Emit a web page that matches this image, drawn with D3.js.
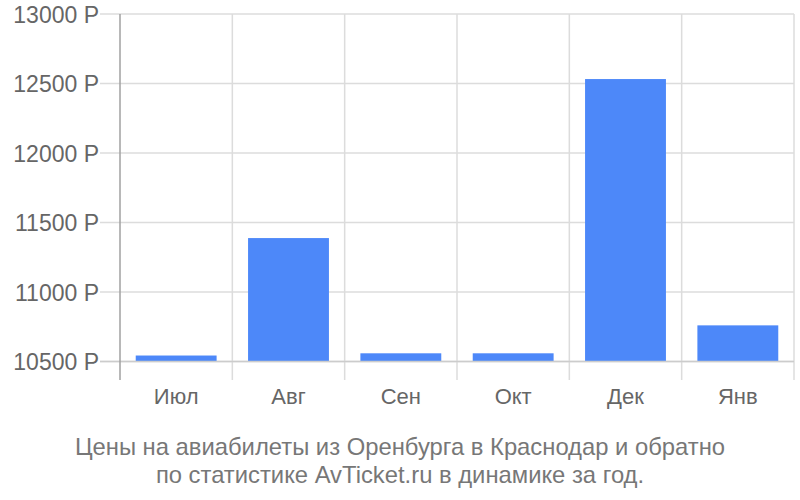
<!DOCTYPE html>
<html><head><meta charset="utf-8">
<script src="https://cdn.jsdelivr.net/npm/d3@7"></script>
<style>body{margin:0;background:#fff}svg{display:block}</style>
</head><body>
<svg id="c" width="800" height="500"></svg>
<script>
const categories = ["Июл","Авг","Сен","Окт","Дек","Янв"];
const prices = [10543, 11388, 10559, 10559, 12532, 10760];
const yTicks = [10500, 11000, 11500, 12000, 12500, 13000];
const titleLines = ["Цены на авиабилеты из Оренбурга в Краснодар и обратно","по статистике AvTicket.ru в динамике за год."];

const svg = d3.select("#c");
const font = "'Liberation Sans', Arial, sans-serif";
const mLeft = 120, mRight = 794, mTop = 14, mBottom = 361.5, axisBottom = 380;

const x = d3.scaleBand().domain(categories).range([mLeft, mRight]).paddingInner(0.28).paddingOuter(0.14);
const xb = d3.scaleBand().domain(categories).range([mLeft, mRight]);
const y = d3.scaleLinear().domain([10500, 13000]).range([mBottom, mTop]);

// horizontal grid + ticks
svg.append("g").selectAll("line").data(yTicks).join("line")
  .attr("x1", 100).attr("x2", mRight).attr("y1", d => y(d)).attr("y2", d => y(d))
  .attr("stroke", "#dcdcdc").attr("stroke-width", 1.5);
// vertical grid
const vb = categories.map(c => xb(c) + xb.bandwidth());
svg.append("g").selectAll("line").data(vb).join("line")
  .attr("x1", d => d).attr("x2", d => d).attr("y1", mTop).attr("y2", axisBottom)
  .attr("stroke", "#dcdcdc").attr("stroke-width", 1.5);

// bars
svg.append("g").selectAll("rect").data(prices).join("rect")
  .attr("x", (d, i) => x(categories[i])).attr("width", x.bandwidth())
  .attr("y", d => y(d)).attr("height", d => y(10500) - y(d))
  .attr("fill", "#4d88f9");

// baseline
svg.append("line").attr("x1", 100).attr("x2", mRight).attr("y1", mBottom).attr("y2", mBottom)
  .attr("stroke", "#cccccc").attr("stroke-width", 1.5);
// left axis
svg.append("line").attr("x1", mLeft).attr("x2", mLeft).attr("y1", mTop).attr("y2", axisBottom)
  .attr("stroke", "#a0a0a0").attr("stroke-width", 1.5);

// y labels
svg.append("g").selectAll("text").data(yTicks).join("text")
  .attr("x", 99).attr("y", d => y(d) + 8.5).attr("text-anchor", "end")
  .attr("font-family", font).attr("font-size", 23).attr("fill", "#666")
  .text(d => d + " Р");

// x labels
svg.append("g").selectAll("text").data(categories).join("text")
  .attr("x", d => xb(d) + xb.bandwidth() / 2).attr("y", 404).attr("text-anchor", "middle")
  .attr("font-family", font).attr("font-size", 22).attr("fill", "#666")
  .text(d => d);

// title
svg.append("g").selectAll("text").data(titleLines).join("text")
  .attr("x", 400).attr("y", (d, i) => 455 + i * 28).attr("text-anchor", "middle")
  .attr("font-family", font).attr("font-size", 23.8).attr("fill", "#777")
  .text(d => d);
</script>
</body></html>
